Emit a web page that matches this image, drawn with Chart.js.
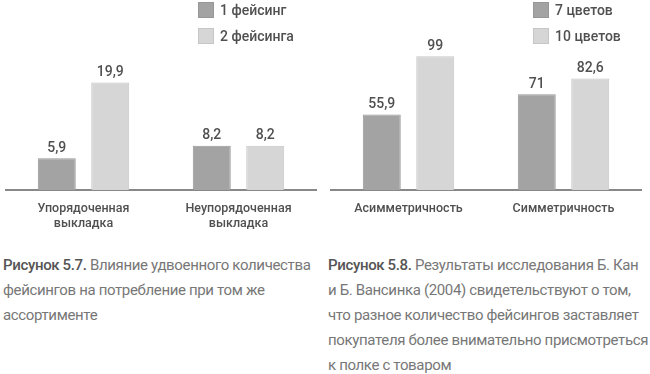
<!DOCTYPE html>
<html>
<head>
<meta charset="utf-8">
<script src="https://cdn.jsdelivr.net/npm/chart.js@4"></script>
<style>
  body { margin: 0; background: #fff; font-family: Roboto, sans-serif; }
  #page { position: relative; width: 650px; height: 374px; overflow: hidden; }
  .panel { position: absolute; top: 0; width: 325px; height: 240px; }
  .legend { position: absolute; top: 2px; font-size: 14px; font-weight: 500; color: #505050; }
  .legend div { height: 26px; display: flex; align-items: flex-start; }
  .legend span.box { display: inline-block; width: 14px; height: 14px; border: 1px solid; margin-right: 6px; }
  .legend span.txt { line-height: 16px; }
  .caption { position: absolute; top: 253px; font-size: 15px; line-height: 25px; color: #777; white-space: nowrap; letter-spacing: -0.35px; }
  .caption b { color: #555; font-weight: 500; }
</style>
</head>
<body>
<div id="page">
  <div class="panel" style="left:0">
    <canvas id="left" width="325" height="240"></canvas>
    <div class="legend" id="legLeft" style="left:198px"></div>
  </div>
  <div class="panel" style="left:325px">
    <canvas id="right" width="325" height="240"></canvas>
    <div class="legend" id="legRight" style="left:208px"></div>
  </div>
  <div class="caption" style="left:3px">
    <b>Рисунок 5.7.</b> Влияние удвоенного количества<br>
    фейсингов на потребление при том же<br>
    ассортименте
  </div>
  <div class="caption" style="left:328px">
    <b>Рисунок 5.8.</b> Результаты исследования Б. Кан<br>
    и Б. Вансинка (2004) свидетельствуют о том,<br>
    что разное количество фейсингов заставляет<br>
    покупателя более внимательно присмотреться<br>
    к полке с товаром
  </div>
</div>
<script>
// левая диаграмма
var leftLabels = [["Упорядоченная", "выкладка"], ["Неупорядоченная", "выкладка"]];
var leftSeries = ["1 фейсинг", "2 фейсинга"];
var oneFacing = [5.9, 8.2];
var twoFacings = [19.9, 8.2];

// правая диаграмма
var rightLabels = ["Асимметричность", "Симметричность"];
var rightSeries = ["7 цветов", "10 цветов"];
var sevenColors = [55.9, 71];
var tenColors = [99, 82.6];

var darkFill = "#a3a3a3", darkLine = "#979797";
var lightFill = "#d6d6d6", lightLine = "#c6c6c6";
var fontFam = "Roboto, sans-serif";

// подписи значений над столбцами
var valueLabels = {
  id: "valueLabels",
  afterDatasetsDraw: function (chart) {
    var ctx = chart.ctx;
    ctx.save();
    ctx.font = "500 14px " + fontFam;
    ctx.fillStyle = "#505050";
    ctx.textAlign = "center";
    ctx.textBaseline = "middle";
    chart.data.datasets.forEach(function (ds, i) {
      chart.getDatasetMeta(i).data.forEach(function (bar, j) {
        ctx.fillText(String(ds.data[j]).replace(".", ","), bar.x, bar.y - 10);
      });
    });
    ctx.restore();
  }
};

function makeChart(id, labels, series, a, b, maxVal) {
  return new Chart(document.getElementById(id), {
    type: "bar",
    data: {
      labels: labels,
      datasets: [
        { label: series[0], data: a, backgroundColor: darkFill, borderColor: darkLine, borderWidth: 1 },
        { label: series[1], data: b, backgroundColor: lightFill, borderColor: lightLine, borderWidth: 1 }
      ]
    },
    options: {
      responsive: false,
      animation: false,
      categoryPercentage: 0.69,
      barPercentage: 0.71,
      layout: { padding: { top: 55, left: 6, right: 9, bottom: 0 } },
      plugins: { legend: { display: false }, tooltip: { enabled: false } },
      scales: {
        y: { display: false, min: 0, max: maxVal },
        x: {
          grid: { display: false },
          border: { color: "#888", width: 2 },
          ticks: { color: "#505050", padding: 3, font: { family: fontFam, size: 12.5, weight: 500, lineHeight: 1.2 } },
          afterFit: function (s) { s.height = 50; }
        }
      }
    },
    plugins: [valueLabels]
  });
}

function makeLegend(id, series) {
  var colors = [[darkFill, darkLine], [lightFill, lightLine]];
  var html = "";
  series.forEach(function (name, i) {
    html += '<div><span class="box" style="background:' + colors[i][0] + ';border-color:' + colors[i][1] + '"></span><span class="txt">' + name + "</span></div>";
  });
  document.getElementById(id).innerHTML = html;
}

makeChart("left", leftLabels, leftSeries, oneFacing, twoFacings, 25);
makeChart("right", rightLabels, rightSeries, sevenColors, tenColors, 100);
makeLegend("legLeft", leftSeries);
makeLegend("legRight", rightSeries);
</script>
</body>
</html>
